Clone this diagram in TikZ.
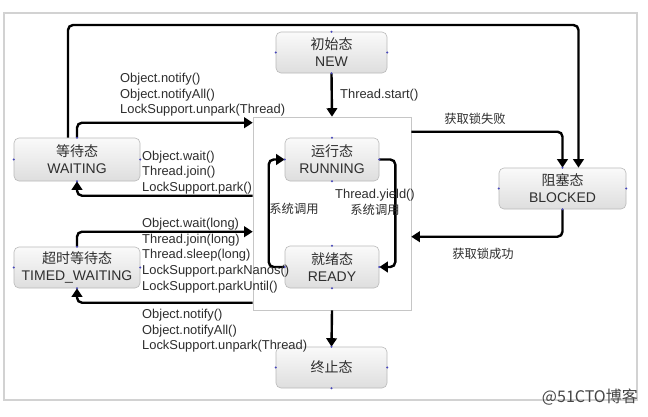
\documentclass[tikz,border=0pt]{standalone}
\usepackage{fontspec}
\setmainfont{Liberation Sans}
\newfontfamily\cjk{Noto Sans CJK SC}
\usetikzlibrary{arrows.meta,calc}
\begin{document}
\begin{tikzpicture}[x=1pt,y=-1pt,
  statebox/.style={draw=gray!55, line width=0.6pt, rounded corners=5pt, top color=gray!4, bottom color=gray!26, align=center, font=\fontsize{14}{17}\selectfont, text=black!82, inner sep=0pt},
  flow/.style={line width=2.4pt, rounded corners=5pt, -{Triangle[length=8.5pt,width=10.5pt]}},
  lbl/.style={font=\fontsize{12.9}{15.7}\selectfont, text=black!82, align=left, inner sep=0pt},
  clbl/.style={font=\cjk\fontsize{12.3}{15}\selectfont, text=black!82, inner sep=0pt}]
\useasboundingbox (0,0) rectangle (648,416);
\fill[white] (0,0) rectangle (648,416);
\draw[gray!35, line width=1.2pt] (4,13) rectangle (637,400);

% inner frame
\node[draw=gray!45, line width=0.6pt, minimum width=158pt, minimum height=193pt, inner sep=0pt] (inner) at (332,213.5) {};

% states
\node[statebox, minimum width=111pt, minimum height=41pt] (new) at (331.5,52.5) {{\cjk 初始态}\\NEW};
\node[statebox, minimum width=94pt, minimum height=43pt] (running) at (332,159.5) {{\cjk 运行态}\\RUNNING};
\node[statebox, minimum width=94pt, minimum height=42pt] (ready) at (332,267) {{\cjk 就绪态}\\READY};
\node[statebox, minimum width=111pt, minimum height=41pt] (term) at (331.5,367.5) {{\cjk 终止态}};
\node[statebox, minimum width=127pt, minimum height=41pt] (blocked) at (562.5,188.5) {{\cjk 阻塞态}\\BLOCKED};
\node[statebox, minimum width=126pt, minimum height=43pt] (waiting) at (77,159.5) {{\cjk 等待态}\\WAITING};
\node[statebox, minimum width=126pt, minimum height=41pt] (tw) at (77,267.5) {{\cjk 超时等待态}\\TIMED\_WAITING};

% connectors
\coordinate (looptop) at (0,25);
\draw[flow] ($(waiting.north)+(-9,0)$) coordinate (ls) -- (ls |- looptop) -| ($(blocked.north)+(16,0)$);
\draw[flow] (waiting.north) |- ($(inner.north west)+(0,6)$);
\draw[flow] ($(inner.north west)+(0,79)$) -| (waiting.south);
\draw[flow] (tw.north) |- ($(inner.north west)+(0,115)$);
\draw[flow] ($(inner.north west)+(0,186)$) -| (tw.south);
\draw[flow] (new.south) -- (inner.north);
\draw[flow] ($(inner.north east)+(0,15)$) -| (blocked.north);
\draw[flow] (blocked.south) |- ($(inner.north east)+(0,120)$);
\draw[flow] (ready.west) -- ++(-16,0) |- (running.west);
\draw[flow] (running.east) -- ++(16,0) |- (ready.east);
\draw[flow] (inner.south) -- (term.north);

% anchor dots
\foreach \n in {new,running,ready,term,blocked,waiting,tw}
  \foreach \a in {north,south,east,west}
    \fill[blue!45!gray] (\n.\a) circle (1.1pt);

% labels
\node[lbl, anchor=north west] (l1) at (120,73) {Object.notify()\\Object.notifyAll()\\LockSupport.unpark(Thread)};
\node[lbl, anchor=north west] (l2) at (142,150.5) {Object.wait()\\Thread.join()\\LockSupport.park()};
\node[lbl, anchor=north west] (l3) at (142,218) {Object.wait(long)\\Thread.join(long)\\Thread.sleep(long)\\LockSupport.parkNanos()\\LockSupport.parkUntil()};
\node[lbl, anchor=north west] (l4) at (142,309) {Object.notify()\\Object.notifyAll()\\LockSupport.unpark(Thread)};
\node[lbl, anchor=west] (lstart) at (340,95) {Thread.start()};
\node[clbl] (lfail) at (475,119) {获取锁失败};
\node[clbl] (lok) at (483,254) {获取锁成功};
\node[clbl] (lsys1) at (294,209) {系统调用};
\node[lbl] (lyield) at (375,195) {Thread.yield()};
\node[clbl] (lsys2) at (375,210) {系统调用};

\node[font=\cjk\fontsize{16}{16}\selectfont, text=gray!55!black, anchor=east, inner sep=0pt] (wm) at (638,397) {@51CTO博客};
\end{tikzpicture}
\end{document}
